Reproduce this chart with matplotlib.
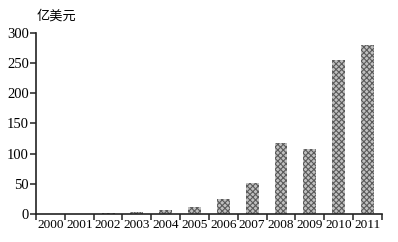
import numpy as np
import matplotlib
matplotlib.use('Agg')
import matplotlib.pyplot as plt

plt.rcParams['font.family'] = ['Liberation Serif', 'Noto Sans CJK SC', 'DejaVu Sans']
plt.rcParams['hatch.linewidth'] = 0.8

years = ['2000', '2001', '2002', '2003', '2004', '2005',
         '2006', '2007', '2008', '2009', '2010', '2011']
values = [0.3, 0.3, 2, 3, 6, 12, 24, 52, 118, 107, 255, 280]
y_ticks = [0, 50, 100, 150, 200, 250, 300]
unit_label = '亿美元'

fig = plt.figure(figsize=(3.98, 2.42), dpi=100)
ax = fig.add_axes([0.0905, 0.116, 0.869, 0.748])

x = np.arange(len(years))
ax.bar(x, values, width=0.45, color='#c0c0c0', edgecolor='#5a5a5a',
       linewidth=0, hatch='xxxxxx')

ax.set_xlim(-0.5, len(years) - 0.5)
ax.set_ylim(0, 300)
ax.set_yticks(y_ticks)
ax.set_xticks(x)
ax.set_xticklabels(years)
ax.set_xticks(np.arange(-0.5, len(years)), minor=True)

for s in ['top', 'right']:
    ax.spines[s].set_visible(False)
for s in ['left', 'bottom']:
    ax.spines[s].set_linewidth(1.2)
    ax.spines[s].set_color('#222222')

ax.tick_params(axis='x', which='major', length=0, pad=4, labelsize=9.5)
ax.tick_params(axis='x', which='minor', length=4, width=1.1, direction='out', color='#222222')
ax.tick_params(axis='y', length=4, width=1.1, direction='out', pad=1, labelsize=10.5, color='#222222')

fig.text(0.092, 0.905, unit_label, fontsize=9.5, ha='left', va='bottom')

fig.savefig('out.png', dpi=100)
